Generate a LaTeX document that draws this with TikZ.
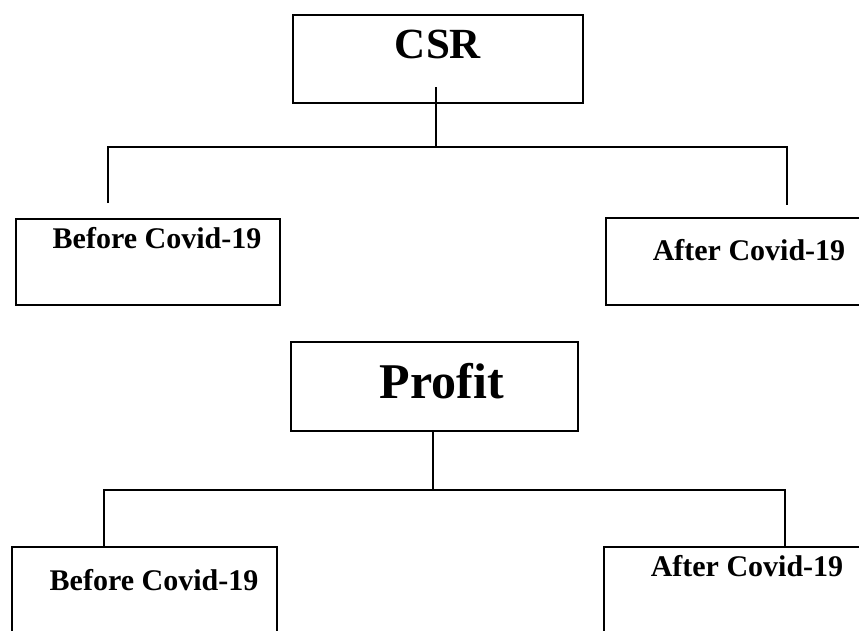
\documentclass[tikz,border=0pt]{standalone}
\usepackage{fontspec}
\setmainfont{Liberation Serif}
\usepackage{tikz}
\usetikzlibrary{calc}
\tikzset{
  box/.style={draw, line width=1.6pt, inner sep=0pt, fill=none},
  lbl/.style={anchor=base, inner sep=0pt, font=\bfseries\fontsize{30}{32}\selectfont},
  biglbl/.style={anchor=base, inner sep=0pt, font=\bfseries\fontsize{43}{45}\selectfont},
  link/.style={line width=1.6pt}
}
\begin{document}
\begin{tikzpicture}[x=1pt,y=-1pt]
        \clip (0,0) rectangle (859,630);
        % top tree
        \node[box, minimum width=290pt, minimum height=88pt] (csr) at (438,59) {};
        \node[box, minimum width=264pt, minimum height=86pt] (before1) at (148,262) {};
        \node[box, minimum width=294pt, minimum height=87pt] (after1) at (753,261.5) {};
        \node[biglbl] (csrtxt) at (438,58) {CSR};
        \node[lbl] (before1txt) at (157,248) {Before Covid-19};
        \node[lbl] (after1txt) at (749,260) {After Covid-19};
        % links for top tree
        \coordinate (csrstub) at (436,87);
        \coordinate (j1) at (436,147);
        \coordinate (l1) at (108,203);
        \coordinate (r1) at (787,205);
        \draw[link] (csrstub) -- (j1);
        \draw[link] (l1) |- (j1) -| (r1);
        % bottom tree
        \node[box, minimum width=287pt, minimum height=89pt] (profit) at (434.5,386.5) {};
        \node[box, minimum width=265pt, minimum height=133pt] (before2) at (144.5,613.5) {};
        \node[box, minimum width=296pt, minimum height=133pt] (after2) at (752,613.5) {};
        \node[biglbl, font=\bfseries\fontsize{50}{52}\selectfont] (profittxt) at (442,398) {Profit};
        \node[lbl] (before2txt) at (154,590) {Before Covid-19};
        \node[lbl] (after2txt) at (747,576) {After Covid-19};
        % links for bottom tree
        \coordinate (j2) at (433,490);
        \coordinate (l2) at (104,547);
        \coordinate (r2) at (785,547);
        \draw[link] (profit.south -| j2) -- (j2);
        \draw[link] (l2) |- (j2) -| (r2);
\end{tikzpicture}
\end{document}
